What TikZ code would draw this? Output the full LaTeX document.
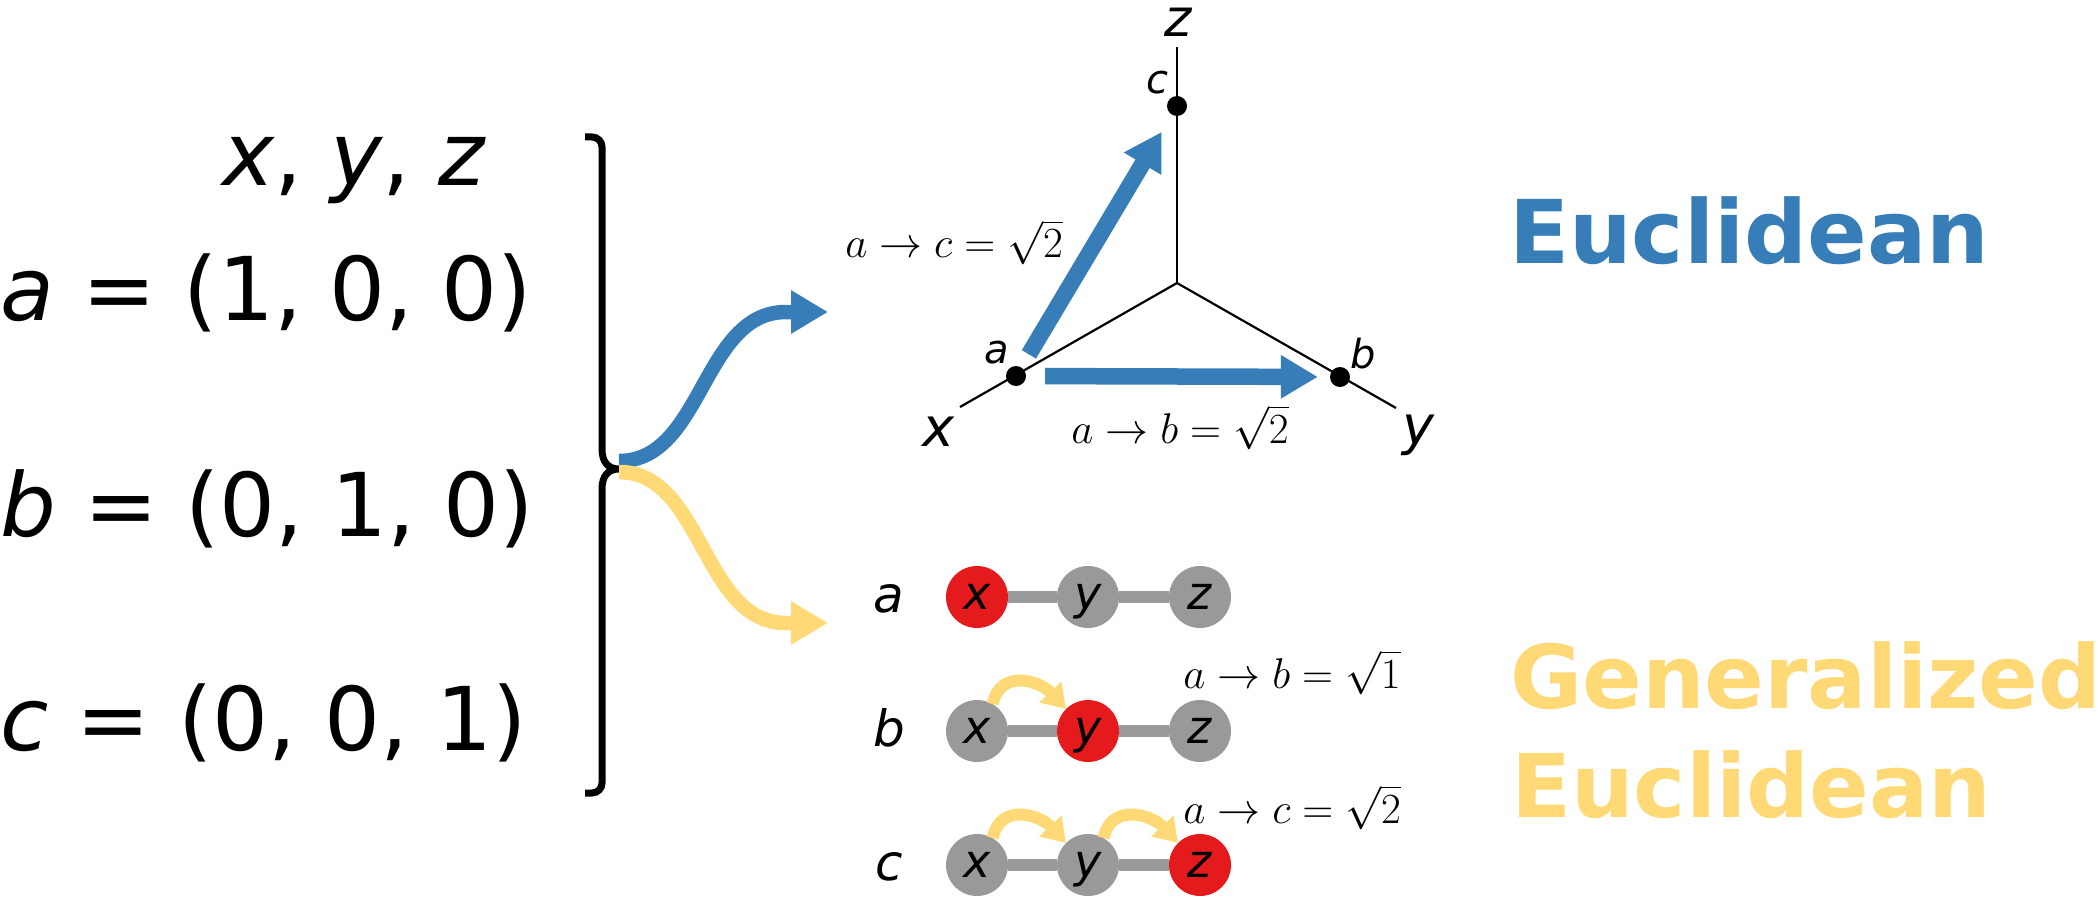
\documentclass[tikz,border=0pt]{standalone}
\usepackage{fix-cm}
\usepackage[no-math]{fontspec}
\setmainfont{DejaVu Sans}
\usetikzlibrary{arrows.meta}
\definecolor{eublue}{HTML}{377EB8}
\definecolor{geyel}{HTML}{FED976}
\definecolor{nred}{HTML}{E41A1C}
\definecolor{ngray}{HTML}{999999}
\newcommand{\fsz}[1]{\fontsize{#1}{#1}\selectfont}
\begin{document}
\begin{tikzpicture}[x=1pt,y=-1pt,
  bigtxt/.style={font=\fsz{88}, anchor=base west, inner sep=0pt},
  brace/.style={line width=7pt, black},
  bigcurve/.style={line width=14.5pt, -{Triangle[length=37pt,width=41pt]}},
  straightarrow/.style={eublue, line width=16.5pt, -{Triangle[length=37pt,width=41pt]}},
  axisline/.style={black, line width=2.2pt},
  dot/.style={circle, fill=black, minimum size=20pt, inner sep=0pt},
  axlab/.style={font=\fsz{54}\itshape, anchor=base, inner sep=0pt},
  ptlab/.style={font=\fsz{40}\itshape, anchor=base, inner sep=0pt},
  mathlab/.style={font=\fsz{43}, anchor=base, inner sep=0pt},
  title/.style={font=\fsz{88}\bfseries, anchor=base west, inner sep=0pt},
  rowlab/.style={font=\fsz{50}\itshape, anchor=base, inner sep=0pt},
  ball/.style={circle, minimum size=62pt, inner sep=0pt, text height=24pt, text depth=0pt, font=\fsz{46}\itshape},
  grayball/.style={ball, fill=ngray},
  redball/.style={ball, fill=nred},
  link/.style={ngray, line width=12pt},
  hop/.style={geyel, line width=12pt, -{Triangle[length=23pt,width=29pt]}}
]
\useasboundingbox (0,0) rectangle (2100,901);

% left column
\node[bigtxt] (hdr) at (222,186) {\textit{x}, \textit{y}, \textit{z}};
\node[bigtxt] (ra) at (0,320) {\textit{a} = (1, 0, 0)};
\node[bigtxt] (rb) at (0,536) {\textit{b} = (0, 1, 0)};
\node[bigtxt] (rc) at (0,750) {\textit{c} = (0, 0, 1)};

% brace
\draw[brace] (585,137) [rounded corners=10pt] -- (602,137) -- (602,300) [sharp corners] -- (602,449)
  .. controls (602,462) and (608,469) .. (619,469)
  .. controls (608,469) and (602,476) .. (602,489) -- (602,600) [rounded corners=10pt] -- (602,793) -- (585,793);

% big curved arrows
\coordinate (bs) at (619,461);
\coordinate (bm) at (786,312);
\coordinate (bt) at (828,312);
\coordinate (ys) at (619,472);
\coordinate (ym) at (786,623);
\coordinate (yt) at (828,623);
\draw[eublue, bigcurve] (bs) .. controls +(84,0) and +(-84,0) .. (bm) -- (bt);
\draw[geyel, bigcurve] (ys) .. controls +(84,0) and +(-84,0) .. (ym) -- (yt);

% 3D axes
\coordinate (O) at (1177,283);
\coordinate (X) at (960,407);
\coordinate (Y) at (1396,408);
\coordinate (Z) at (1177,47);
\draw[axisline] (O) -- (X);
\draw[axisline] (O) -- (Y);
\draw[axisline] (O) -- (Z);
\node[dot] (da) at (1016,376) {};
\node[dot] (db) at (1340,377) {};
\node[dot] (dc) at (1177,106) {};
\node[axlab, font=\fsz{52}\itshape] (lz) at (1178,37) {z};
\node[axlab] (lx) at (938,446) {x};
\node[axlab] (ly) at (1418,444) {y};
\node[ptlab] (la) at (997,363) {a};
\node[ptlab] (lb) at (1363,368) {b};
\node[ptlab] (lc) at (1157,94) {c};
\draw[straightarrow, shorten <=19pt, shorten >=12pt] (da) -- (db);
\draw[straightarrow, shorten <=15pt, shorten >=20pt] (da) -- (dc);
\node[mathlab] (mac1) at (954,258) {$a\to c=\sqrt{2}$};
\node[mathlab] (mab1) at (1180,443) {$a\to b=\sqrt{2}$};

% titles
\node[title, text=eublue] (teu) at (1509,264) {Euclidean};
\node[title, text=geyel] (tge1) at (1510,708) {Generalized};
\node[title, text=geyel] (tge2) at (1511,817) {Euclidean};

% chains
\node[rowlab] (rla) at (889,612) {a};
\node[rowlab] (rlb) at (889,746) {b};
\node[rowlab] (rlc) at (889,880) {c};

\node[redball] (ax) at (977,597) {x};
\node[grayball] (ay) at (1088,597) {y};
\node[grayball] (az) at (1200,597) {z};
\node[grayball] (bx) at (977,731) {x};
\node[redball] (by) at (1088,731) {y};
\node[grayball] (bz) at (1200,731) {z};
\node[grayball] (cx) at (977,865) {x};
\node[grayball] (cy) at (1088,865) {y};
\node[redball] (cz) at (1200,865) {z};

\draw[link] (ax) -- (ay);
\draw[link] (ay) -- (az);
\draw[link] (bx) -- (by);
\draw[link] (by) -- (bz);
\draw[link] (cx) -- (cy);
\draw[link] (cy) -- (cz);

\draw[hop] (bx.60) .. controls +(8,-36) and +(-26,-28) .. (by.135);
\draw[hop] (cx.60) .. controls +(8,-36) and +(-26,-28) .. (cy.135);
\draw[hop] (cy.60) .. controls +(8,-36) and +(-26,-28) .. (cz.135);

\node[mathlab] (mab2) at (1292,688) {$a\to b=\sqrt{1}$};
\node[mathlab] (mac2) at (1292,823) {$a\to c=\sqrt{2}$};
\end{tikzpicture}
\end{document}
